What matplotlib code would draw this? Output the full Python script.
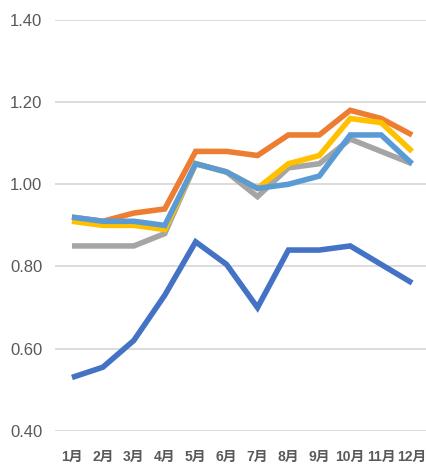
import numpy as np
import matplotlib.pyplot as plt

plt.rcParams['font.family'] = ['Liberation Sans', 'Noto Sans CJK SC', 'DejaVu Sans']

months = ['1月', '2月', '3月', '4月', '5月', '6月', '7月', '8月', '9月', '10月', '11月', '12月']

s1 = [0.53, 0.555, 0.62, 0.73, 0.86, 0.805, 0.70, 0.84, 0.84, 0.85, 0.805, 0.76]
s2 = [0.92, 0.91, 0.93, 0.94, 1.08, 1.08, 1.07, 1.12, 1.12, 1.18, 1.16, 1.12]
s3 = [0.85, 0.85, 0.85, 0.88, 1.05, 1.03, 0.97, 1.04, 1.05, 1.11, 1.08, 1.05]
s4 = [0.91, 0.90, 0.90, 0.89, 1.05, 1.03, 0.99, 1.05, 1.07, 1.16, 1.15, 1.08]
s5 = [0.92, 0.91, 0.91, 0.90, 1.05, 1.03, 0.99, 1.00, 1.02, 1.12, 1.12, 1.05]

colors = ['#4472C4', '#ED7D31', '#A5A5A5', '#FFC000', '#5B9BD5']

fig = plt.figure(figsize=(4.26, 4.73), dpi=100)
ax = fig.add_axes([0.129, 0.089, 0.871, 0.869])

x = np.arange(len(months))
for s, c in zip([s1, s2, s3, s4, s5], colors):
    ax.plot(x, s, color=c, lw=4, solid_joinstyle='miter', solid_capstyle='butt')

ax.set_xlim(-0.55, 11.45)
ax.set_ylim(0.40, 1.40)
ax.set_yticks([0.40, 0.60, 0.80, 1.00, 1.20, 1.40])
ax.set_yticklabels(['%.2f' % v for v in ax.get_yticks()])
ax.set_xticks(x)
ax.set_xticklabels(months)
ax.yaxis.grid(True, color='#D9D9D9', lw=1.3)
ax.set_axisbelow(True)
for sp in ax.spines.values():
    sp.set_visible(False)
ax.tick_params(axis='both', length=0, labelcolor='#595959')
ax.tick_params(axis='y', pad=9, labelsize=12)
ax.tick_params(axis='x', pad=14, labelsize=10)
for lab in ax.get_xticklabels():
    lab.set_fontweight('bold')

fig.savefig('out.png', dpi=100)
